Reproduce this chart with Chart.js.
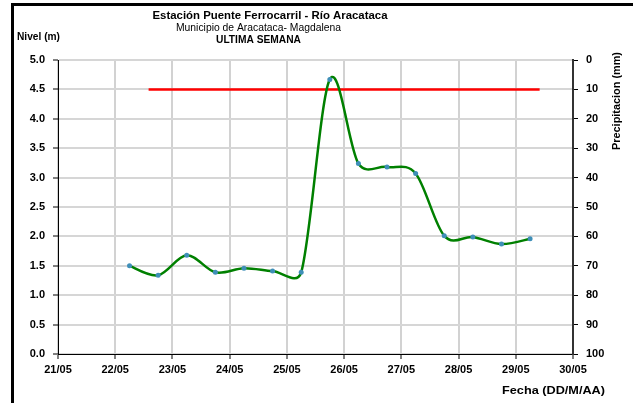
<!DOCTYPE html>
<html>
<head>
<meta charset="utf-8">
<script src="https://cdn.jsdelivr.net/npm/chart.js@4.4.0/dist/chart.umd.min.js"></script>
<style>
html,body{margin:0;padding:0;background:#fff;}
canvas{display:block;}
</style>
</head>
<body>
<canvas id="c" width="633" height="403"></canvas>
<script>
// ---- Data ----
const fechaEtiquetas = ['21/05','22/05','23/05','24/05','25/05','26/05','27/05','28/05','29/05','30/05'];
const nivelFechas = ['22/05 06:00','22/05 18:00','23/05 06:00','23/05 18:00','24/05 06:00','24/05 18:00','25/05 06:00','25/05 18:00','26/05 06:00','26/05 18:00','27/05 06:00','27/05 18:00','28/05 06:00','28/05 18:00','29/05 06:00'];
const nivelValores = [1.50,1.34,1.68,1.39,1.46,1.41,1.39,4.67,3.24,3.18,3.07,2.01,1.99,1.87,1.96];
const precipFechas = ['22/05 14:00','29/05 10:00'];
const precipValores = [10,10];
const nivelTicks = [0,0.5,1,1.5,2,2.5,3,3.5,4,4.5,5];
const precipTicks = [0,10,20,30,40,50,60,70,80,90,100];

function diaOffset(s){
  const [d, t] = s.split(' ');
  const dd = parseInt(d.split('/')[0],10);
  const [hh, mm] = t.split(':').map(Number);
  return (dd - 21) + (hh + mm/60)/24;
}

const FONT = "'Liberation Sans', Arial, sans-serif";

function textFit(ctx, text, x, y, width, font, align){
  ctx.save();
  ctx.font = font;
  const w = ctx.measureText(text).width;
  const s = width / w;
  ctx.translate(x, y);
  ctx.scale(s, 1);
  ctx.textAlign = align;
  ctx.textBaseline = 'middle';
  ctx.fillText(text, 0, 0);
  ctx.restore();
}

// Excel-like smoothing: Catmull-Rom control points, arms limited by adjacent segment length
const excelSmooth = {
  id:'excelSmooth',
  beforeDatasetDraw(chart, args){
    if (args.index !== 0) return;
    const meta = args.meta;
    const line = meta.dataset;
    if (line.updateControlPoints) line.updateControlPoints(chart.chartArea, 'x');
    const pts = meta.data;
    const lim = (ax, ay, seg) => {
      const l = Math.hypot(ax, ay);
      const m = 0.5 * seg;
      return l > m && l > 0 ? [ax*m/l, ay*m/l] : [ax, ay];
    };
    for (let i = 0; i < pts.length; i++){
      const p = pts[i];
      const prev = pts[i-1] || p;
      const next = pts[i+1] || p;
      const dx = (next.x - prev.x)/6;
      const dy = (next.y - prev.y)/6;
      const a = lim(dx, dy, Math.hypot(p.x - prev.x, p.y - prev.y));
      const b = lim(dx, dy, Math.hypot(next.x - p.x, next.y - p.y));
      p.cp1x = p.x - a[0]; p.cp1y = p.y - a[1];
      p.cp2x = p.x + b[0]; p.cp2y = p.y + b[1];
    }
  }
};

const decor = {
  id:'decor',
  afterDraw(chart){
    const ctx = chart.ctx;
    ctx.save();
    ctx.strokeStyle = '#000';
    ctx.lineWidth = 3;
    ctx.strokeRect(12.5, 4.5, 700, 500);
    ctx.fillStyle = '#000';
    textFit(ctx, 'Estación Puente Ferrocarril - Río Aracataca', 270, 16, 235, 'bold 11px ' + FONT, 'center');
    textFit(ctx, 'Municipio de Aracataca- Magdalena', 258.5, 28, 165, '10px ' + FONT, 'center');
    textFit(ctx, 'ULTIMA SEMANA', 258.5, 40, 85, 'bold 10px ' + FONT, 'center');
    textFit(ctx, 'Nivel (m)', 17, 37, 43, 'bold 10.5px ' + FONT, 'left');
    textFit(ctx, 'Fecha (DD/M/AA)', 605, 391, 103, 'bold 11px ' + FONT, 'right');
    ctx.save();
    ctx.translate(617, 101);
    ctx.rotate(-Math.PI/2);
    textFit(ctx, 'Precipitacion (mm)', 0, 0, 98, 'bold 10.5px ' + FONT, 'center');
    ctx.restore();
    ctx.restore();
  }
};

new Chart(document.getElementById('c'), {
  type:'line',
  data:{
    datasets:[
      {
        label:'Nivel',
        data: nivelFechas.map((f,i)=>({x:diaOffset(f), y:nivelValores[i]})),
        yAxisID:'y',
        borderColor:'#008000',
        borderWidth:2.5,
        tension:0.4,
        pointRadius:2.5,
        pointBackgroundColor:'#3f8fb8',
        pointBorderColor:'#3f8fb8',
        pointBorderWidth:0
      },
      {
        label:'Precipitacion',
        data: precipFechas.map((f,i)=>({x:diaOffset(f), y:precipValores[i]})),
        yAxisID:'y1',
        borderColor:'#ff0000',
        borderWidth:2.5,
        pointRadius:0,
        tension:0
      }
    ]
  },
  options:{
    responsive:false,
    animation:false,
    devicePixelRatio:1,
    layout:{padding:{left:12, top:60, right:0, bottom:0}},
    plugins:{legend:{display:false}, tooltip:{enabled:false}},
    scales:{
      x:{
        type:'linear', min:0, max:9,
        afterFit(s){ s.height = 49; },
        afterBuildTicks(s){ s.ticks = fechaEtiquetas.map((_,i)=>({value:i})); },
        ticks:{
          autoSkip:false, maxRotation:0, padding:4,
          color:'#000', font:{family:FONT, size:11, weight:'bold'},
          callback:(v)=>fechaEtiquetas[v]
        },
        grid:{color:'#d2d2d2', lineWidth:2, tickColor:'#000', tickLength:5, tickWidth:1},
        border:{color:'#000', width:1}
      },
      y:{
        position:'left', min:0, max:5,
        afterFit(s){ s.width = 46; },
        afterBuildTicks(s){ s.ticks = nivelTicks.map(v=>({value:v})); },
        ticks:{
          padding:8, color:'#000', font:{family:FONT, size:11, weight:'bold'},
          callback:(v)=>Number(v).toFixed(1)
        },
        grid:{color:'#d6d6d6', lineWidth:2, tickColor:'#000', tickLength:5, tickWidth:1},
        border:{color:'#000', width:1}
      },
      y1:{
        position:'right', min:0, max:100, reverse:true,
        afterFit(s){ s.width = 60; },
        afterBuildTicks(s){ s.ticks = precipTicks.map(v=>({value:v})); },
        ticks:{
          padding:8, color:'#000', font:{family:FONT, size:11, weight:'bold'},
          callback:(v)=>String(v)
        },
        grid:{drawOnChartArea:false, color:'#000', tickColor:'#000', tickLength:5, tickWidth:1},
        border:{color:'#333', width:2}
      }
    }
  },
  plugins:[excelSmooth, decor]
});
</script>
</body>
</html>
